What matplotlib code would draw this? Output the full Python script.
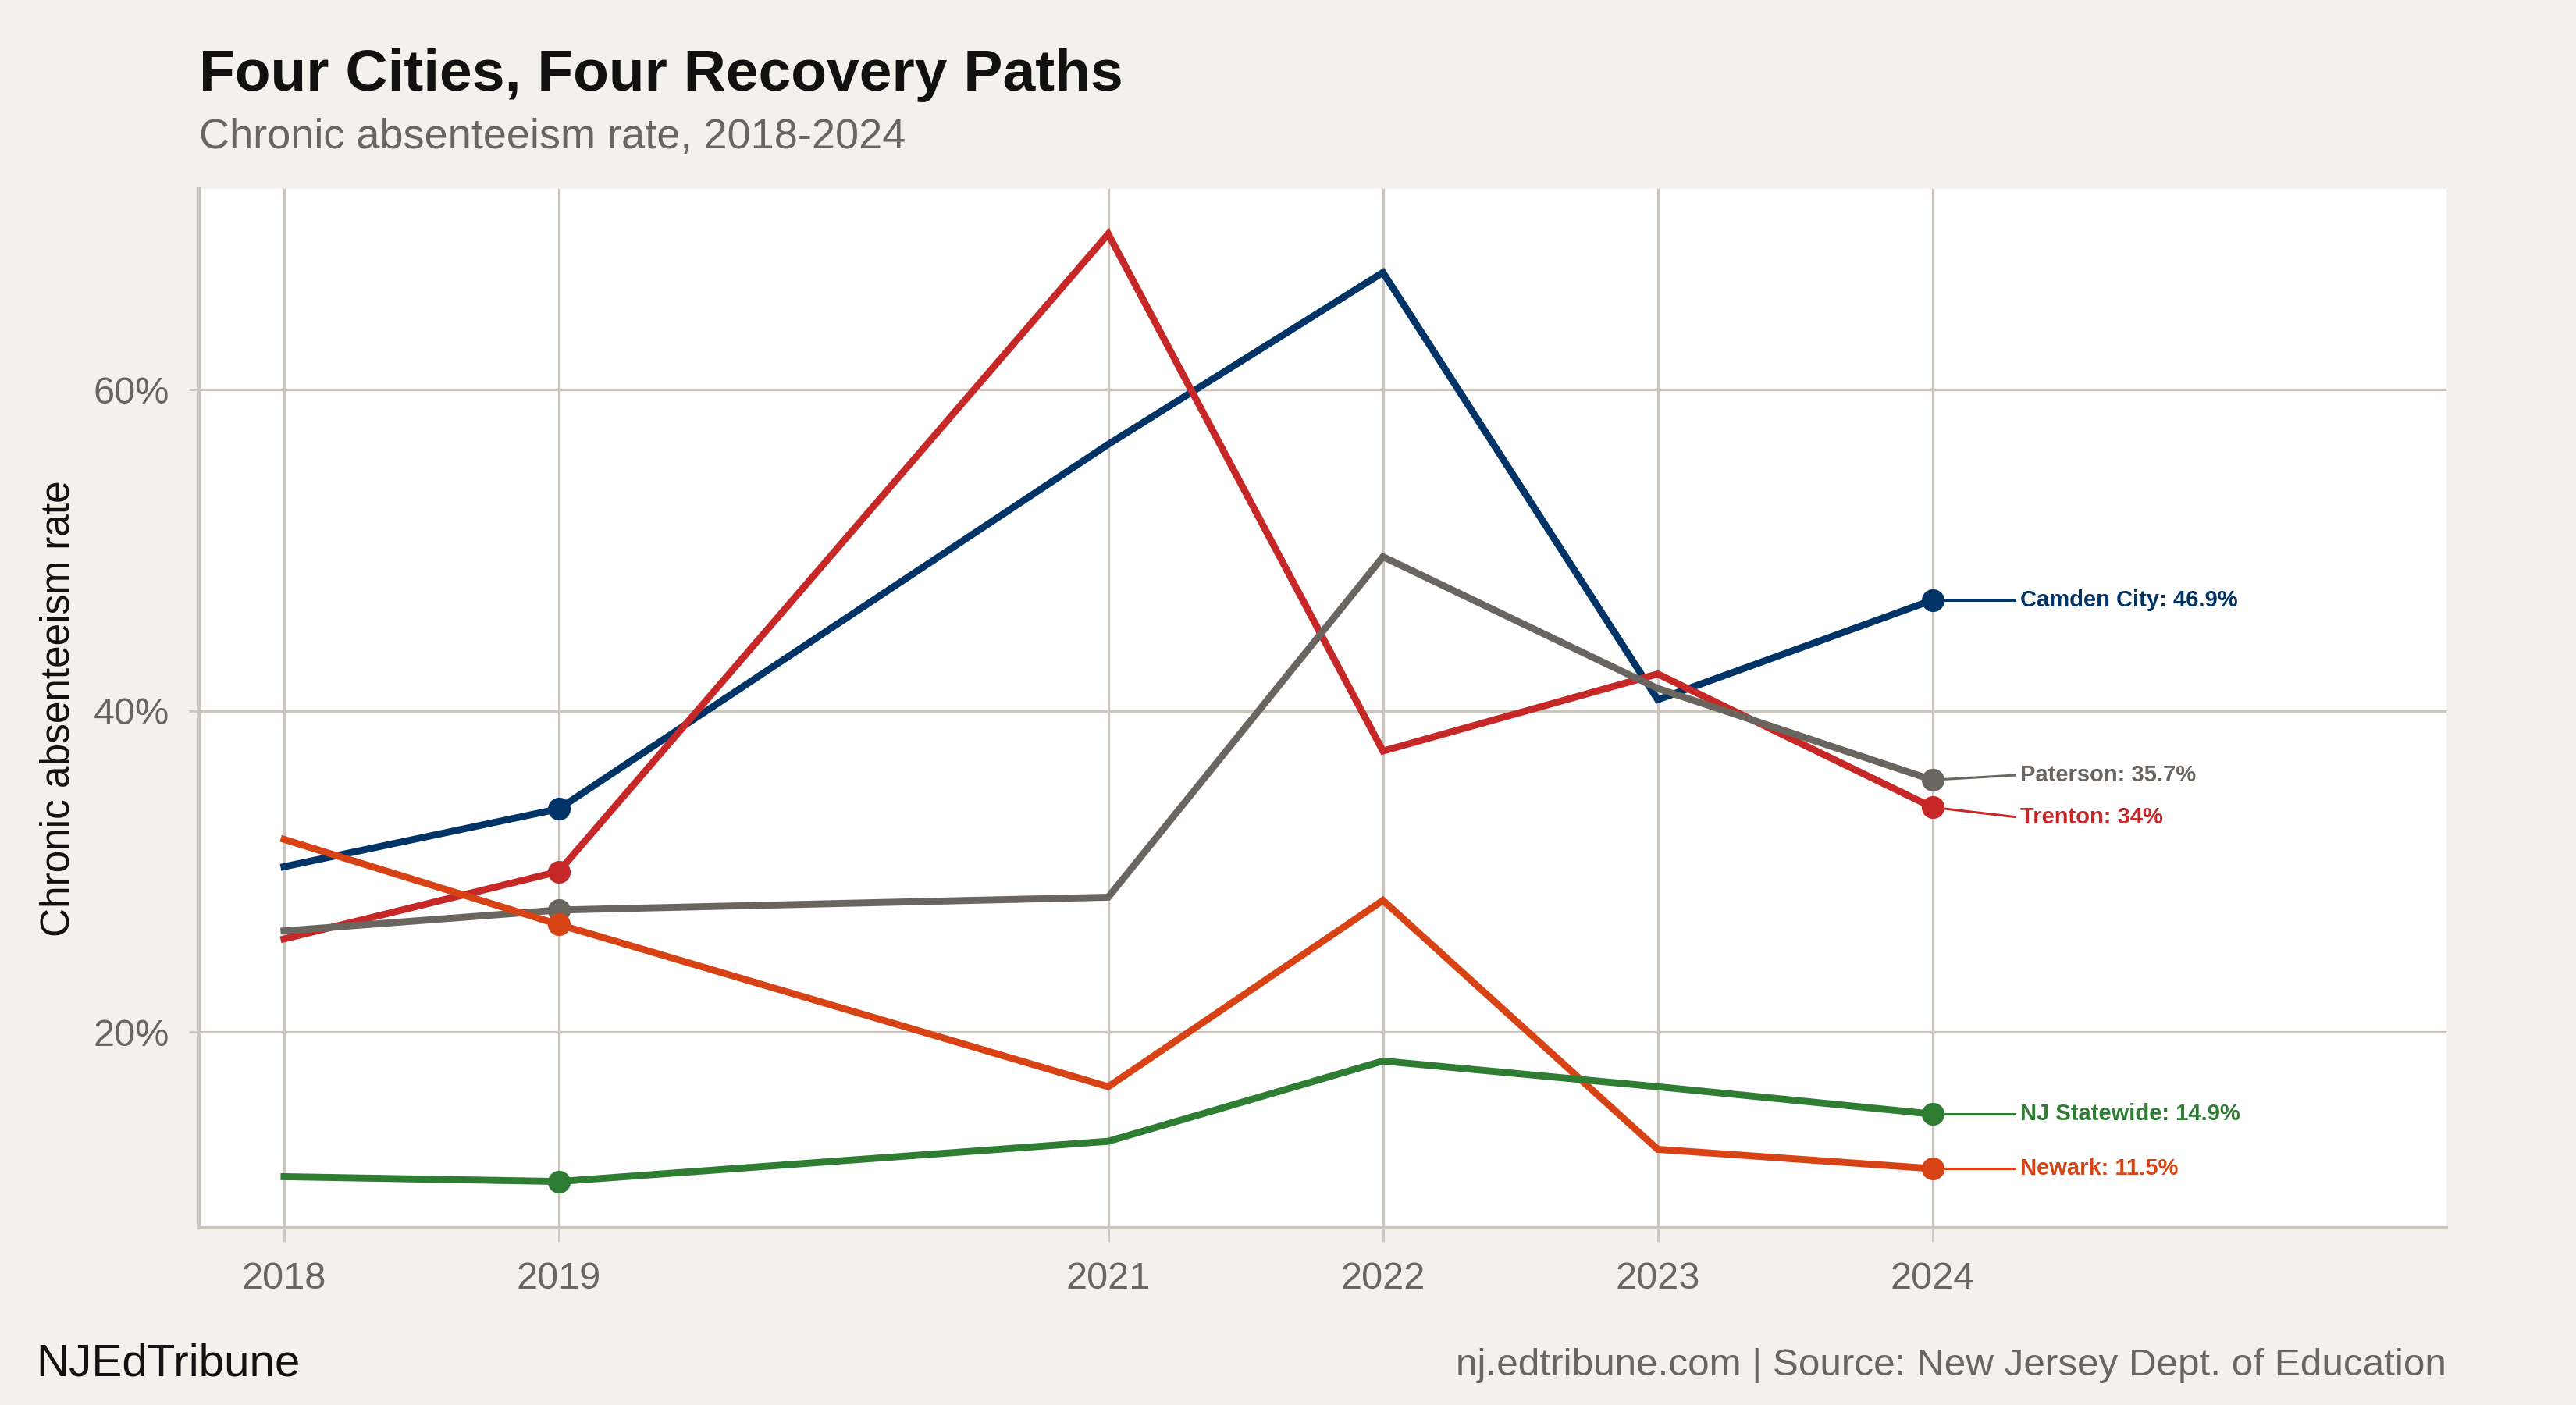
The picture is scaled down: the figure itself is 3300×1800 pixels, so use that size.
import numpy as np
import matplotlib
matplotlib.use("Agg")
import matplotlib.pyplot as plt
from matplotlib.ticker import FuncFormatter

plt.rcParams['font.family'] = ['Liberation Sans', 'DejaVu Sans']

## data
years = [2018, 2019, 2021, 2022, 2023, 2024]
camden = [30.3, 33.9, 56.6, 67.3, 40.7, 46.9]
trenton = [25.8, 30.0, 69.7, 37.5, 42.3, 34.0]
paterson = [26.3, 27.6, 28.4, 49.6, 41.4, 35.7]
newark = [32.0, 26.7, 16.6, 28.2, 12.7, 11.5]
statewide = [11.0, 10.7, 13.2, 18.2, 16.6, 14.9]

series_names = ["Camden City", "Trenton", "Paterson", "Newark", "NJ Statewide"]
series_values = [camden, trenton, paterson, newark, statewide]
series_colors = ["#003366", "#c62828", "#6b6560", "#d84315", "#2e7d32"]
label_texts = ["Camden City: 46.9%", "Trenton: 34%", "Paterson: 35.7%",
               "Newark: 11.5%", "NJ Statewide: 14.9%"]
label_y = [46.9, 33.4, 36.0, 11.5, 14.9]
marker_years = [2019, 2024]

bg = "#f4f1ec"
grid_col = "#cbc5bc"

fig = plt.figure(figsize=(16.5, 9), dpi=200, facecolor=bg)
ax = fig.add_axes([0.0772, 0.1263, 0.8724, 0.7392])
ax.set_facecolor("white")

for name, vals, col in zip(series_names, series_values, series_colors):
    ax.plot(years, vals, color=col, lw=3.2, solid_joinstyle='miter', zorder=3)
    mx = [y for y in years if y in marker_years]
    my = [v for y, v in zip(years, vals) if y in marker_years]
    ax.plot(mx, my, 'o', color=col, ms=9.5, zorder=4)

# end labels with connectors
for txt, ly, vals, col in zip(label_texts, label_y, series_values, series_colors):
    ax.plot([years[-1], 2024.3], [vals[-1], ly], color=col, lw=1.1, zorder=2)
    ax.text(2024.32, ly, txt, color=col, fontsize=10.5, fontweight='bold',
            va='center', ha='left', zorder=5)

ax.set_xlim(2017.69, 2025.87)
ax.set_ylim(7.83, 72.5)
ax.set_xticks(years)
ax.set_yticks([20, 40, 60])
ax.yaxis.set_major_formatter(FuncFormatter(lambda v, p: f"{v:.0f}%"))
ax.grid(True, color=grid_col, lw=1.2, zorder=0)
ax.set_axisbelow(True)

for s in ['top', 'right']:
    ax.spines[s].set_visible(False)
for s in ['left', 'bottom']:
    ax.spines[s].set_color(grid_col)
    ax.spines[s].set_linewidth(1.5)

ax.tick_params(axis='x', colors=grid_col, length=6.5, width=1, labelcolor="#6b6560",
               labelsize=17.5, pad=9)
ax.tick_params(axis='y', colors=grid_col, length=4.7, width=1, labelcolor="#6b6560",
               labelsize=17.5, pad=9)

ax.set_ylabel("Chronic absenteeism rate", fontsize=18.5, color="#111111", labelpad=7)

fig.text(0.0772, 0.9357, "Four Cities, Four Recovery Paths", fontsize=27,
         fontweight='bold', color="#111111", ha='left', va='baseline')
fig.text(0.0772, 0.8947, "Chronic absenteeism rate, 2018-2024", fontsize=19.5,
         color="#6b6560", ha='left', va='baseline')
fig.text(0.014, 0.021, "NJEdTribune", fontsize=21, color="#111111",
         ha='left', va='baseline')
fig.text(0.9496, 0.021, "nj.edtribune.com | Source: New Jersey Dept. of Education",
         fontsize=17.8, color="#6b6560", ha='right', va='baseline')

fig.savefig("out.png", dpi=200, facecolor=bg)
